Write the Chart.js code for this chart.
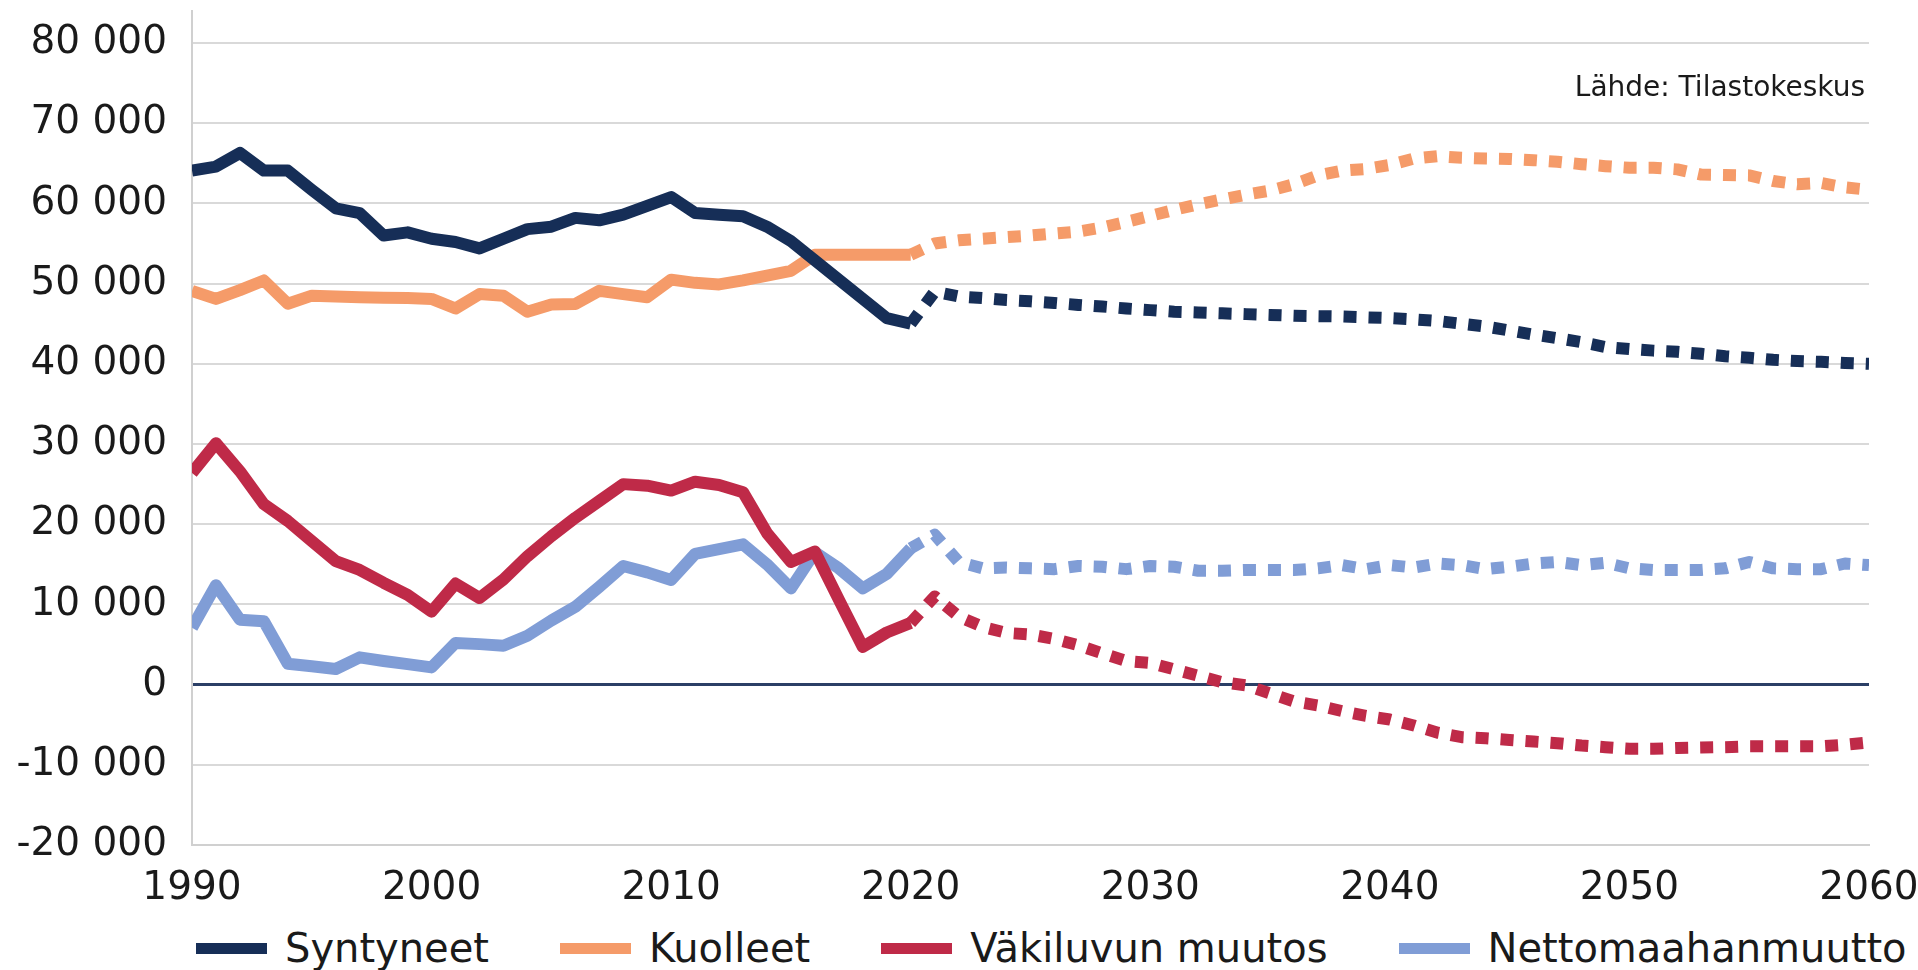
<!DOCTYPE html>
<html lang="fi">
<head>
<meta charset="utf-8">
<title>Syntyneet, kuolleet ja väkiluvun muutos 1990–2060</title>
<script src="https://cdn.jsdelivr.net/npm/chart.js@4.4.1/dist/chart.umd.min.js"></script>
<style>
  html, body { margin: 0; padding: 0; background: #fff; }
  body { font-family: 'DejaVu Sans', sans-serif; color: #1a1a1a; }
  #kuva { position: relative; width: 1918px; height: 970px; overflow: hidden; }
  #kaavio-alue { position: absolute; left: 0; top: 0; width: 1918px; height: 905px; }
  #lahde { position: absolute; top: 73px; right: 53px; font-size: 28px; line-height: 28px; white-space: nowrap; }
  #selite { position: absolute; left: 196px; top: 924px; height: 48px; display: flex; align-items: center; font-size: 40px; line-height: 48px; white-space: nowrap; }
  .selite-kohta { display: flex; align-items: center; margin-right: 71px; }
  .selite-viiva { display: inline-block; width: 71px; height: 11px; margin-right: 18px; }
</style>
</head>
<body>
<div id="kuva">
  <div id="kaavio-alue"><canvas id="kaavio"></canvas></div>
  <div id="lahde">Lähde: Tilastokeskus</div>
  <div id="selite"></div>
</div>
<script>
  // vuodesta 2020 eteenpäin ennuste (pisteviiva)
  var ENNUSTE_ALKAA = 2020;

  var vuodet = [];
  for (var v = 1990; v <= 2060; v++) vuodet.push(v);

  var yTikit = [-20000, -10000, 0, 10000, 20000, 30000, 40000, 50000, 60000, 70000, 80000];
  var xTikit = [1990, 2000, 2010, 2020, 2030, 2040, 2050, 2060];

  var syntyneet = [
    64100, 64600, 66300, 64100, 64100, 61700, 59400, 58800, 56000, 56400,
    55600, 55200, 54400, 55600, 56800, 57100, 58200, 57900, 58600, 59700,
    60800, 58800, 58600, 58400, 57100, 55300, 52900, 50500, 48100, 45700,
    45000, 49000, 48400, 48200, 47950, 47800, 47600, 47350, 47150, 46900,
    46700, 46500, 46400, 46300, 46200, 46100, 46000, 45950, 45900, 45800,
    45700, 45550, 45350, 45000, 44650, 44150, 43650, 43200, 42700, 42100,
    41850, 41650, 41500, 41250, 40950, 40750, 40500, 40350, 40250, 40100,
    40000
  ];

  var kuolleet = [
    49100, 48100, 49200, 50400, 47500, 48500, 48400, 48300, 48250, 48200,
    48100, 46900, 48700, 48500, 46500, 47400, 47450, 49100, 48700, 48300,
    50500, 50100, 49900, 50400, 51000, 51600, 53600, 53600, 53600, 53600,
    53600, 55000, 55400, 55600, 55800, 56000, 56250, 56500, 57000, 57700,
    58450, 59200, 59900, 60500, 61100, 61600, 62400, 63500, 64100, 64300,
    64800, 65600, 65900, 65700, 65600, 65550, 65400, 65200, 64900, 64650,
    64450, 64450, 64250, 63600, 63550, 63500, 62800, 62400, 62550, 62000,
    61700
  ];

  var muutos = [
    26400, 30100, 26600, 22500, 20400, 17900, 15400, 14300, 12700, 11200,
    9100, 12600, 10800, 13100, 16000, 18500, 20800, 22900, 25000, 24800,
    24200, 25300, 24900, 24000, 18900, 15300, 16600, 10600, 4700, 6500,
    7700, 11000, 8500, 7200, 6450, 6250, 5700, 4900, 3900, 2950,
    2700, 1900, 1100, 300, -100, -1100, -2100, -2600, -3300, -3900,
    -4350, -5100, -6000, -6550, -6700, -6900, -7100, -7300, -7600, -7800,
    -8000, -8000, -7900, -7850, -7800, -7700, -7700, -7700, -7700, -7500,
    -7200
  ];

  var nettomuutto = [
    7100, 12400, 8100, 7900, 2600, 2300, 1950, 3400, 2950, 2550,
    2150, 5200, 5050, 4850, 6100, 8000, 9700, 12200, 14800, 14000,
    13050, 16300, 16900, 17500, 15000, 12000, 16500, 14500, 12000, 13800,
    17000, 18700, 15300, 14500, 14600, 14500, 14400, 14800, 14700, 14400,
    14800, 14700, 14200, 14200, 14300, 14300, 14300, 14500, 14900, 14400,
    14900, 14600, 15100, 14900, 14400, 14700, 15100, 15300, 14900, 15200,
    14500, 14300, 14300, 14300, 14500, 15300, 14500, 14400, 14400, 15100,
    14900
  ];

  var sarjat = [
    { nimi: 'Syntyneet', arvot: syntyneet, vari: '#162e57' },
    { nimi: 'Kuolleet', arvot: kuolleet, vari: '#f59b69' },
    { nimi: 'Väkiluvun muutos', arvot: muutos, vari: '#bf2a48' },
    { nimi: 'Nettomaahanmuutto', arvot: nettomuutto, vari: '#809dd6' }
  ];

  var FONTTI = "'DejaVu Sans', sans-serif";
  var TEKSTI = '#1a1a1a';
  var RUUDUKKO = '#d9d9d9';
  var NOLLA = '#2b3f66';

  function tuhannet(arvo) {
    return String(arvo).replace(/\B(?=(\d{3})+(?!\d))/g, ' ');
  }

  Chart.defaults.font.family = FONTTI;

  new Chart(document.getElementById('kaavio'), {
    type: 'line',
    data: {
      datasets: sarjat.map(function (s) {
        return {
          label: s.nimi,
          data: s.arvot.map(function (a, i) { return { x: vuodet[i], y: a }; }),
          borderColor: s.vari,
          backgroundColor: s.vari,
          borderWidth: 12,
          borderCapStyle: 'butt',
          borderJoinStyle: 'round',
          pointRadius: 0,
          tension: 0,
          segment: {
            borderDash: function (ctx) {
              return ctx.p0.parsed.x >= ENNUSTE_ALKAA ? [13, 12] : undefined;
            }
          }
        };
      })
    },
    options: {
      responsive: true,
      maintainAspectRatio: false,
      animation: false,
      layout: { padding: { top: 11, right: 49, bottom: 0, left: 0 } },
      plugins: { legend: { display: false }, tooltip: { enabled: false } },
      scales: {
        x: {
          type: 'linear',
          min: 1990,
          max: 2060,
          grid: { display: false },
          border: { color: '#d0d0d0', width: 2 },
          ticks: {
            padding: 12,
            maxRotation: 0,
            autoSkip: false,
            color: TEKSTI,
            font: { size: 39 },
            callback: function (arvo) { return String(arvo); }
          },
          afterBuildTicks: function (akseli) {
            akseli.ticks = xTikit.map(function (t) { return { value: t }; });
          },
          afterFit: function (s) {
            s.height = 60;
            s.paddingLeft = 0;
            s.paddingRight = 0;
          }
        },
        y: {
          min: -20000,
          max: 84000,
          grid: {
            drawTicks: false,
            color: function (c) { return c.tick && c.tick.value === 0 ? NOLLA : RUUDUKKO; },
            lineWidth: function (c) { return c.tick && c.tick.value === 0 ? 3 : 2; }
          },
          border: { color: '#d0d0d0', width: 2 },
          ticks: {
            padding: 25,
            autoSkip: false,
            color: TEKSTI,
            font: { size: 39 },
            callback: tuhannet
          },
          afterBuildTicks: function (akseli) {
            akseli.ticks = yTikit.map(function (t) { return { value: t }; });
          },
          afterFit: function (s) {
            s.width = 192;
            s.paddingTop = 0;
            s.paddingBottom = 0;
          }
        }
      }
    }
  });

  document.getElementById('selite').innerHTML = sarjat.map(function (s) {
    return '<div class="selite-kohta"><span class="selite-viiva" style="background:' + s.vari + '"></span>' +
      '<span>' + s.nimi + '</span></div>';
  }).join('');
</script>
</body>
</html>
